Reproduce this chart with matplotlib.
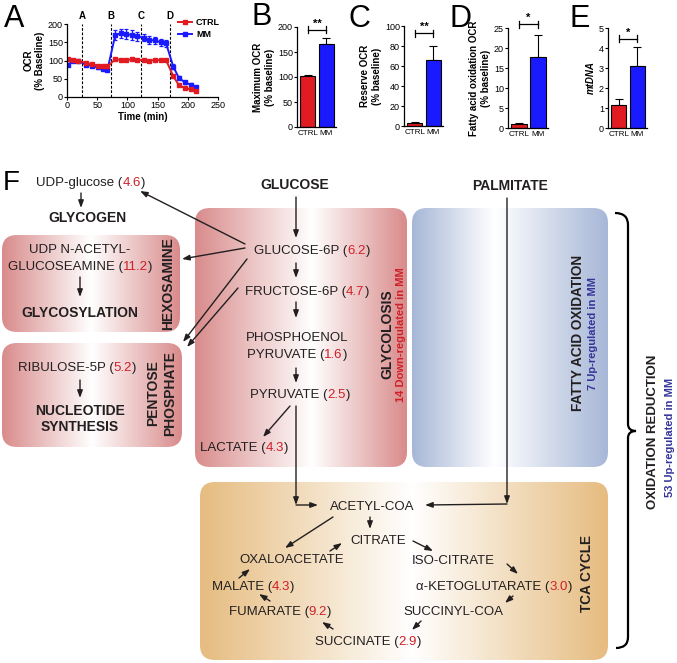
import numpy as np
import matplotlib.pyplot as plt
from matplotlib.patches import FancyBboxPatch, PathPatch
from matplotlib.path import Path
from matplotlib.lines import Line2D
from matplotlib.offsetbox import TextArea, HPacker, AnnotationBbox
from matplotlib.colors import LinearSegmentedColormap

plt.rcParams['font.family'] = ['Liberation Sans', 'DejaVu Sans']

# panel A - OCR time course (% baseline)
time_min = [2, 10, 18, 32, 41, 51, 60, 67, 80, 89, 98, 107, 116,
            127, 136, 146, 155, 164, 176, 185, 195, 205, 214]
ocr_ctrl = [104, 101, 100, 93, 90, 86, 84, 84, 103, 102, 102, 103, 102,
            101, 100, 101, 101, 101, 57, 33, 24, 21, 17]
ocr_ctrl_err = [2, 2, 2, 2, 2, 2, 2, 2, 2, 2, 2, 2, 2,
                2, 2, 2, 2, 2, 3, 2, 2, 2, 2]
ocr_mm = [89, 98, 99, 88, 86, 81, 77, 75, 170, 174, 172, 170, 166,
          163, 156, 155, 150, 147, 83, 53, 40, 34, 28]
ocr_mm_err = [4, 3, 3, 3, 3, 3, 3, 3, 14, 13, 14, 13, 12,
              10, 10, 10, 9, 9, 7, 5, 4, 3, 3]
injections = [25, 73, 122, 171]
injection_labels = ['A', 'B', 'C', 'D']

# panels B-E
groups = ['CTRL', 'MM']
max_ocr, max_ocr_err = [103, 166], [2, 13]
reserve_ocr, reserve_ocr_err = [3, 66], [1.5, 14]
fao_ocr, fao_ocr_err = [1.0, 17.8], [0.3, 5.5]
mtdna, mtdna_err = [1.15, 3.12], [0.28, 0.93]

# panel F - fold changes of metabolites
fc_names = ['UDP-glucose', 'GLUCOSEAMINE', 'RIBULOSE-5P', 'GLUCOSE-6P',
            'FRUCTOSE-6P', 'PHOSPHOENOL PYRUVATE', 'PYRUVATE', 'LACTATE',
            'MALATE', 'FUMARATE', 'SUCCINATE', 'α-KETOGLUTARATE']
fc_values = [4.6, 11.2, 5.2, 6.2, 4.7, 1.6, 2.5, 4.3, 4.3, 9.2, 2.9, 3.0]
n_glyco_down, n_fao_up, n_redox_up = 14, 7, 53

W, H = 677, 663
red, blue = '#e01b22', '#1a1aff'
ink, numred, upblue = '#231f20', '#cf2027', '#35349a'

fig = plt.figure(figsize=(W / 100, H / 100), dpi=100)

# ---------- diagram canvas (pixel coords) ----------
dax = fig.add_axes([0, 0, 1, 1])
dax.axis('off')


def grad_box(x0, y0, x1, y1, color, mid=0.5, r=15):
    cmap = LinearSegmentedColormap.from_list('g', [(0, color), (mid, 'white'), (1, color)])
    patch = FancyBboxPatch((x0, y0), x1 - x0, y1 - y0,
                           boxstyle=f'round,pad=0,rounding_size={r}', fc='none', ec='none')
    dax.add_patch(patch)
    im = dax.imshow(np.linspace(0, 1, 256).reshape(1, -1), cmap=cmap,
                    extent=(x0, x1, y1, y0), aspect='auto', interpolation='bicubic', zorder=0)
    im.set_clip_path(patch)


grad_box(2, 235, 180, 332, '#d98b8b')
grad_box(2, 343, 182, 447, '#d98b8b')
grad_box(195, 208, 407, 467, '#d98b8b', mid=0.55)
grad_box(412, 208, 608, 467, '#a7b7d7', mid=0.42)
grad_box(200, 482, 608, 660, '#e6bc80', mid=0.52)

fc = dict(zip(fc_names, fc_values))


def metab(x, y, key, shown=None, size=9.5):
    # name with the fold change in red, centred on (x, y)
    parts = [TextArea((shown or key) + ' (', textprops=dict(fontsize=size, color=ink)),
             TextArea(f'{fc[key]:.1f}', textprops=dict(fontsize=size, color=numred)),
             TextArea(')', textprops=dict(fontsize=size, color=ink))]
    box = HPacker(children=parts, align='baseline', pad=0, sep=0)
    dax.add_artist(AnnotationBbox(box, (x, y), xycoords='data', frameon=False,
                                  box_alignment=(0.5, 0.5), pad=0))


def plain(x, y, s, size=9.5, bold=False, rot=0, color=ink):
    dax.text(x, y, s, ha='center', va='center', fontsize=size, color=color,
             fontweight='bold' if bold else 'normal', rotation=rot)


def arrow(x0, y0, x1, y1):
    dax.annotate('', xy=(x1, y1), xytext=(x0, y0),
                 arrowprops=dict(arrowstyle='-|>,head_length=0.55,head_width=0.2',
                                 color=ink, lw=1.0, shrinkA=0, shrinkB=0, mutation_scale=8))


# left side
metab(91, 183, 'UDP-glucose')
plain(87, 218, 'GLYCOGEN', 10, True)
plain(80, 250, 'UDP N-ACETYL-')
metab(80, 267, 'GLUCOSEAMINE')
plain(80, 313, 'GLYCOSYLATION', 10, True)
plain(168, 284, 'HEXOSAMINE', 10, True, 90)
metab(77, 368, 'RIBULOSE-5P')
plain(80, 411, 'NUCLEOTIDE', 10, True)
plain(80, 427, 'SYNTHESIS', 10, True)
plain(153, 393, 'PENTOSE', 10, True, 90)
plain(170, 393, 'PHOSPHATE', 10, True, 90)
arrow(81, 193, 81, 208)
arrow(80, 277, 80, 297)
arrow(80, 380, 80, 398)

# glycolysis
plain(295, 185, 'GLUCOSE', 10, True)
metab(312, 251, 'GLUCOSE-6P')
metab(307, 292, 'FRUCTOSE-6P')
plain(297, 338, 'PHOSPHOENOL')
metab(297, 355, 'PHOSPHOENOL PYRUVATE', 'PYRUVATE')
metab(300, 395, 'PYRUVATE')
metab(244, 448, 'LACTATE')
plain(387, 334, 'GLYCOLOSIS', 10, True, 90)
plain(401, 335, f'{n_glyco_down} Down-regulated in MM', 8, True, 90, numred)
arrow(296, 197, 296, 238)
arrow(296, 263, 296, 278)
arrow(296, 302, 296, 318)
arrow(296, 368, 296, 383)
arrow(290, 406, 263, 437)
arrow(245, 244, 140, 191)
arrow(245, 248, 182, 259)
arrow(247, 259, 183, 342)
arrow(238, 288, 187, 347)
arrow(296, 406, 296, 505)
arrow(296, 505, 318, 505)

# fatty acids
plain(510, 186, 'PALMITATE', 10, True)
plain(578, 333, 'FATTY ACID OXIDATION', 9.8, True, 90)
plain(593, 333, f'{n_fao_up} Up-regulated in MM', 8, True, 90, upblue)
arrow(507, 198, 507, 504)
arrow(507, 504, 425, 505)

# TCA cycle
plain(372, 507, 'ACETYL-COA')
plain(378, 541, 'CITRATE')
plain(292, 560, 'OXALOACETATE')
plain(453, 561, 'ISO-CITRATE')
metab(494, 587, 'α-KETOGLUTARATE')
plain(453, 612, 'SUCCINYL-COA')
metab(368, 642, 'SUCCINATE')
metab(280, 612, 'FUMARATE')
metab(253, 587, 'MALATE')
plain(587, 573, 'TCA CYCLE', 9.8, True, 90)
arrow(370, 517, 370, 529)
arrow(333, 517, 285, 548)
arrow(330, 551, 342, 543)
arrow(413, 541, 433, 551)
arrow(507, 564, 518, 574)
arrow(513, 596, 505, 603)
arrow(421, 621, 412, 630)
arrow(333, 629, 322, 622)
arrow(270, 601, 259, 594)
arrow(239, 578, 250, 569)

# oxidation reduction brace
M, C3, L = Path.MOVETO, Path.CURVE3, Path.LINETO
brace = Path([(615, 213), (628, 213), (628, 225), (628, 424), (628, 431), (636, 431),
              (628, 431), (628, 438), (628, 637), (628, 648), (616, 648)],
             [M, C3, C3, L, C3, C3, C3, C3, L, C3, C3])
dax.add_patch(PathPatch(brace, fc='none', ec='black', lw=1.6))
plain(653, 432, 'OXIDATION REDUCTION', 9.5, True, 90)
plain(670, 437, f'{n_redox_up} Up-regulated in MM', 8, True, 90, upblue)

# panel letters
for s, x, y, sz in [('A', 4, 27, 22), ('B', 251, 25, 22), ('C', 349, 27, 22),
                    ('D', 450, 27, 22), ('E', 569, 27, 22), ('F', 3, 190, 20)]:
    dax.text(x, y, s, fontsize=sz, va='baseline', ha='left', color='black')

dax.set_xlim(0, W)
dax.set_ylim(H, 0)


# ---------- panel A ----------
def style(ax):
    for sp in ['top', 'right']:
        ax.spines[sp].set_visible(False)
    for sp in ['left', 'bottom']:
        ax.spines[sp].set_linewidth(0.9)
    ax.tick_params(labelsize=6.5, length=2, width=0.8, pad=1)


axA = fig.add_axes([67 / W, 1 - 97 / H, 151 / W, 73 / H])
axA.errorbar(time_min, ocr_mm, yerr=ocr_mm_err, color=blue, marker='s', ms=3,
             lw=1.4, elinewidth=0.9, capsize=1.5, capthick=0.9)
axA.errorbar(time_min, ocr_ctrl, yerr=ocr_ctrl_err, color=red, marker='s', ms=3,
             lw=1.4, elinewidth=0.9, capsize=1.5, capthick=0.9)
for t, lab in zip(injections, injection_labels):
    axA.plot([t, t], [0, 200], ls=(0, (2.5, 1.5)), color='black', lw=0.8)
    axA.text(t, 222, lab, ha='center', va='center', fontsize=7, fontweight='bold', clip_on=False)
axA.set_xlim(0, 250)
axA.set_ylim(0, 200)
axA.set_xticks(range(0, 251, 50))
axA.set_yticks(range(0, 201, 50))
axA.set_xlabel('Time (min)', fontsize=7, fontweight='bold', labelpad=1)
axA.set_ylabel('OCR\n(% Baseline)', fontsize=7, fontweight='bold', labelpad=2)
style(axA)
handles = [Line2D([], [], color=red, marker='s', ms=3, lw=1.4, label='CTRL'),
           Line2D([], [], color=blue, marker='s', ms=3, lw=1.4, label='MM')]
axA.legend(handles=handles, loc='upper left', bbox_to_anchor=(178 / W, 1 - 18 / H),
           bbox_transform=fig.transFigure, frameon=False, prop=dict(size=6.5, weight='bold'),
           handlelength=1.6, handletextpad=0.4, borderaxespad=0, borderpad=0, labelspacing=0.3)


# ---------- panels B-E ----------
def bar_panel(x0, x1, y0, y1, vals, errs, ylabel, ymax, ystep, stars, line_y, italic=False):
    ax = fig.add_axes([x0 / W, 1 - y1 / H, (x1 - x0) / W, (y1 - y0) / H])
    ax.bar([0, 1], vals, width=0.8, color=[red, blue], edgecolor='black', linewidth=0.8, zorder=2)
    ax.errorbar([0, 1], vals, yerr=[[0, 0], errs], fmt='none', ecolor='black',
                elinewidth=0.8, capsize=3, capthick=0.8, zorder=1)
    ax.set_xlim(-0.58, 1.52)
    ax.set_ylim(0, ymax)
    ax.set_yticks(np.arange(0, ymax + ystep / 2, ystep))
    ax.set_xticks([0, 1])
    ax.set_xticklabels(groups)
    ax.set_ylabel(ylabel, fontsize=7, fontweight='bold', labelpad=2,
                  fontstyle='italic' if italic else 'normal')
    style(ax)
    ax.tick_params(axis='x', length=0, pad=2, labelsize=5.8)
    d = ymax * 0.035
    ax.plot([0, 1], [line_y, line_y], color='black', lw=0.9, clip_on=False)
    for xx in (0, 1):
        ax.plot([xx, xx], [line_y - d, line_y + d], color='black', lw=0.9, clip_on=False)
    ax.text(0.5, line_y + ymax * 0.01, stars, ha='center', va='bottom', fontsize=8,
            fontweight='bold', clip_on=False)
    return ax


bar_panel(297, 336, 27, 127, max_ocr, max_ocr_err, 'Maximum OCR\n(% baseline)', 200, 50, '**', 195)
bar_panel(404, 443, 26, 126, reserve_ocr, reserve_ocr_err, 'Reserve OCR\n(% baseline)', 100, 20, '**', 93)
bar_panel(508, 548, 28, 128, fao_ocr, fao_ocr_err, 'Fatty acid oxidation OCR\n(% baseline)', 25, 5, '*', 26)
bar_panel(608, 647, 28, 128, mtdna, mtdna_err, 'mtDNA', 5, 1, '*', 4.46, italic=True)

fig.savefig('out.png', dpi=100)
